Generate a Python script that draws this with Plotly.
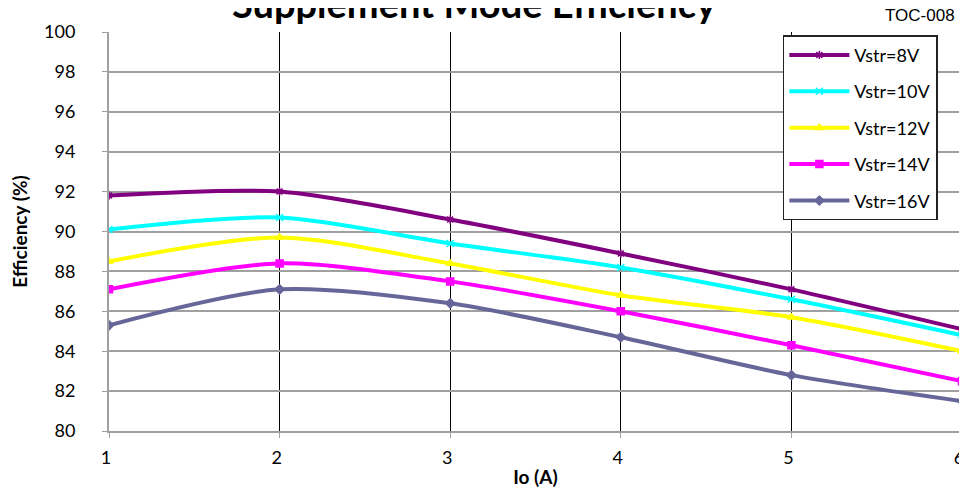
import plotly.graph_objects as go

io_a = [1, 2, 3, 4, 5, 6]
eff_8v = [91.8, 92.0, 90.6, 88.9, 87.1, 85.1]
eff_10v = [90.1, 90.7, 89.4, 88.2, 86.6, 84.8]
eff_12v = [88.5, 89.7, 88.4, 86.8, 85.7, 84.0]
eff_14v = [87.1, 88.4, 87.5, 86.0, 84.3, 82.5]
eff_16v = [85.3, 87.1, 86.4, 84.7, 82.8, 81.5]

series = [
    ("Vstr=8V", eff_8v, "#800080", "asterisk-open"),
    ("Vstr=10V", eff_10v, "#00FFFF", "x-thin-open"),
    ("Vstr=12V", eff_12v, "#FFFF00", "triangle-up"),
    ("Vstr=14V", eff_14v, "#FF00FF", "square"),
    ("Vstr=16V", eff_16v, "#666699", "diamond"),
]

fig = go.Figure()
for name, vals, color, sym in series:
    fig.add_trace(go.Scatter(
        x=io_a, y=vals, name=name, mode="lines+markers", legendgroup=name,
        line=dict(color=color, width=4, shape="spline", smoothing=0.8),
        marker=dict(symbol=sym, size=7, color=color,
                    line=dict(color=color, width=1.5)),
    ))

font = "Lato, 'Open Sans', sans-serif"
fig.update_layout(
    width=959, height=494,
    margin=dict(l=101, r=5, t=24, b=71, autoexpand=False),
    paper_bgcolor="white", plot_bgcolor="white",
    font=dict(family=font, color="black", size=18),
    showlegend=True,
    legend=dict(x=0.790, y=0.992, xanchor="left", yanchor="top",
                bgcolor="white", bordercolor="#222222", borderwidth=1.5,
                font=dict(size=18, family=font), itemwidth=60,
                tracegroupgap=10),
    xaxis=dict(range=[1, 6], tickvals=io_a, showgrid=True, gridcolor="black",
               gridwidth=1, showline=True, linecolor="#a0a0a0", linewidth=2,
               ticks="outside", tickcolor="#a0a0a0", ticklen=5,
               ticklabelstandoff=4, ticklabelshift=-3, ticklabeloverflow="allow",
               zeroline=False, automargin=False,
               title=dict(text="<b>Io (A)</b>", standoff=4, font=dict(size=19))),
    yaxis=dict(range=[80, 100], dtick=2, showgrid=True, gridcolor="#a0a0a0",
               gridwidth=1.5, showline=True, linecolor="#a0a0a0", linewidth=2,
               ticks="outside", tickcolor="#a0a0a0", ticklen=5,
               ticklabelstandoff=23, zeroline=False, automargin=False,
               title=dict(text="<b>Efficiency (%)</b>", standoff=12, font=dict(size=19))),
    annotations=[
        dict(text="<b>Supplement Mode Efficiency</b>", x=0.429, y=1.0725, xref="paper",
             yref="paper", xanchor="center", yanchor="middle",
             showarrow=False, font=dict(size=38, family=font, color="black")),
        dict(text="TOC-008", x=0.994, y=1.041, xref="paper", yref="paper",
             xanchor="right", yanchor="middle", showarrow=False,
             font=dict(size=17, family="'Liberation Sans', Arial, sans-serif")),
    ],
)

fig.write_html("out.html")
